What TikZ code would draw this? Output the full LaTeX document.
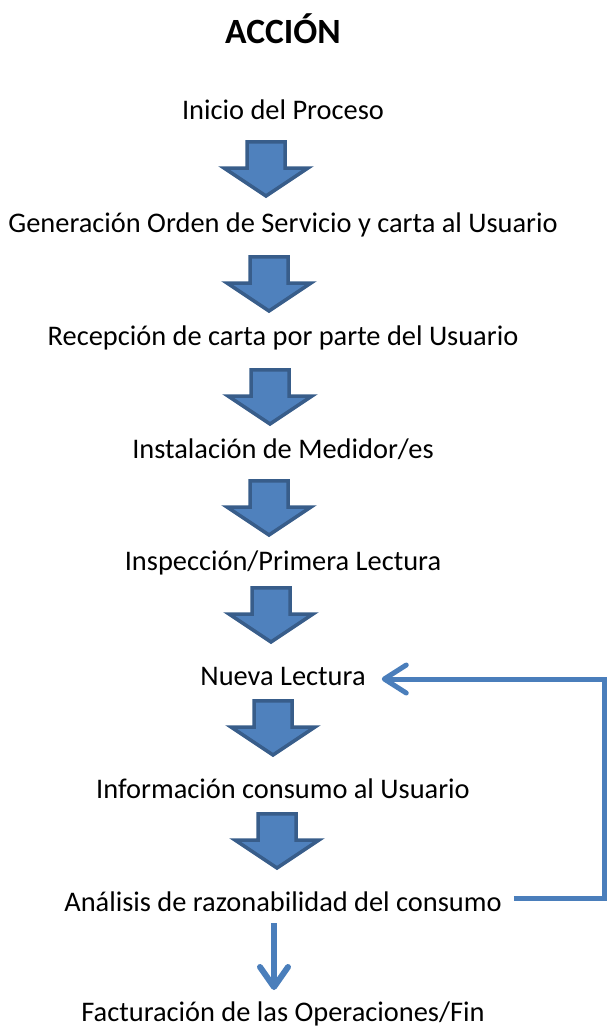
\documentclass[tikz,border=0pt]{standalone}
\usepackage{fontspec}
\setmainfont{Carlito}
\usetikzlibrary{arrows.meta,calc}
\definecolor{blkfill}{HTML}{4F81BD}
\definecolor{blkdraw}{HTML}{385D8A}
\definecolor{lnblue}{HTML}{4A7EBB}
\begin{document}
\begin{tikzpicture}[x=1pt,y=-1pt,
  txt/.style={font=\fontsize{28.4}{32}\selectfont, inner sep=0pt, anchor=base},
  ttl/.style={font=\fontsize{35.5}{40}\selectfont\bfseries, inner sep=0pt, anchor=base},
  barrowstyle/.style={draw=blkdraw, fill=blkfill, line width=3.5pt, line join=miter},
  blockarrow/.pic={\draw[barrowstyle] (-19,1.75) -- (19,1.75) -- (19,28) -- (42,28) -- (0,56) -- (-42,28) -- (-19,28) -- cycle;},
  fb/.style={draw=lnblue, line width=5pt, line cap=butt, line join=miter,
    -{Straight Barb[length=22pt, width=28pt, line cap=round, line join=round]}},
  dn/.style={draw=lnblue, line width=6pt, line cap=butt,
    -{Straight Barb[length=20pt, width=28pt, line cap=round, line join=round]}}
]
\useasboundingbox (0,0) rectangle (607,1028);
\node[ttl] (title) at (283,43) {ACCIÓN};
\node[txt] (t0) at (283,119) {Inicio del Proceso};
\node[txt] (t1) at (283,232) {Generación Orden de Servicio y carta al Usuario};
\node[txt] (t2) at (283,345) {Recepción de carta por parte del Usuario};
\node[txt] (t3) at (283,458) {Instalación de Medidor/es};
\node[txt] (t4) at (283,570) {Inspección/Primera Lectura};
\node[txt] (t5) at (283,685) {Nueva Lectura};
\node[txt] (t6) at (283,798) {Información consumo al Usuario};
\node[txt] (t7) at (283,911) {Análisis de razonabilidad del consumo};
\node[txt] (t8) at (283,1021) {Facturación de las Operaciones/Fin};

\pic (a1) at (266,140) {blockarrow};
\pic (a2) at (269,255) {blockarrow};
\pic (a3) at (270,368) {blockarrow};
\pic (a4) at (269,479) {blockarrow};
\pic (a5) at (271,586) {blockarrow};
\pic (a6) at (273,699) {blockarrow};
\pic (a7) at (277,812) {blockarrow};

\coordinate (fbx) at (604.5,0);
\coordinate (fbs) at ($(t7.base east)+(12,-13)$);
\coordinate (fbe) at ($(t5.base east)+(16,-6)$);
\draw[fb] (fbs) -- (fbx |- fbs) -- (fbx |- fbe) -- (fbe);
\draw[dn] ($(t7.base)+(-9,12)$) -- ($(t8.base)+(-9,-31)$);
\end{tikzpicture}
\end{document}
